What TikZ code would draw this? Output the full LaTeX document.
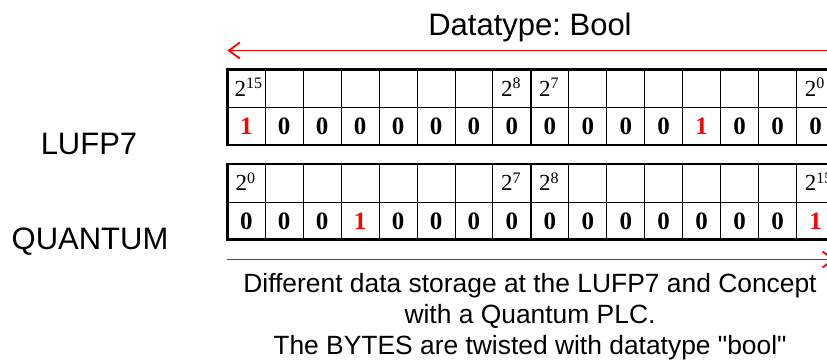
\documentclass[tikz,border=0pt]{standalone}
\usepackage{fontspec}
\setmainfont{Liberation Serif}
\setsansfont{Liberation Sans}[Ligatures=TeXOff]
\frenchspacing
\usepackage{tikz}
\usetikzlibrary{arrows.meta,positioning,calc}
\newcommand{\powtwo}[1]{2\raisebox{7.5pt}{\fontsize{16}{16}\selectfont #1}}
\tikzset{%
  cell/.style={draw,line width=1pt,anchor=north west,minimum width=37.95pt,inner sep=0pt,outer sep=0pt},
  expcell/.style={cell,minimum height=38.2pt},
  bitcell/.style={cell,minimum height=37.2pt,font=\fontsize{25}{25}\selectfont\bfseries},
  bit0/.style={},
  bit1/.style={text=red},
  explabel/.style={anchor=base west,inner sep=0pt,font=\fontsize{23}{23}\selectfont},
  frame/.style={line width=2.5pt},
  bytesep/.style={line width=2pt},
  sidetext/.style={anchor=base,inner sep=0pt,font=\sffamily\fontsize{31}{31}\selectfont},
  note/.style={anchor=base,inner sep=0pt,align=center,font=\sffamily\fontsize{26.4}{31.3}\selectfont},
  redarrow/.style={-{Straight Barb[length=11pt,width=16pt]},red,line width=1.8pt}%
}

\begin{document}
\begin{tikzpicture}[x=1pt,y=-1pt]
\useasboundingbox (0,0) rectangle (827,363);
\clip (0,0) rectangle (827,363);

% Title with direction arrow
\node[sidetext] (dtype) at (530,36) {Datatype: Bool};
\coordinate (dt-right) at (835,50.5);
\coordinate (dt-left) at (227.3,50.5);
\draw[redarrow] (dt-right) -- (dt-left);

% LUFP7 word
\foreach \i in {0,...,15}
  \node[expcell] (lufp-exp-\i) at ({227.3+37.95*\i},69.5) {};
\foreach \b [count=\i from 0] in {1,0,0,0,0,0,0,0,0,0,0,0,1,0,0,0}
  \node[bitcell,bit\b] (lufp-bit-\i) at (lufp-exp-\i.south west) {\b};
\draw[frame] (lufp-exp-0.north west) rectangle (lufp-bit-15.south east);
\draw[bytesep] (lufp-exp-7.north east) -- (lufp-bit-7.south east);
\node[explabel] (lufp-e15) at ([xshift=7pt,yshift=-7.5pt]lufp-exp-0.west) {\powtwo{15}};
\node[explabel] (lufp-e8) at ([xshift=8pt,yshift=-7.5pt]lufp-exp-7.west) {\powtwo{8}};
\node[explabel] (lufp-e7) at ([xshift=8pt,yshift=-7.5pt]lufp-exp-8.west) {\powtwo{7}};
\node[explabel] (lufp-e0) at ([xshift=8pt,yshift=-7.5pt]lufp-exp-15.west) {\powtwo{0}};

% QUANTUM word
\foreach \i in {0,...,15}
  \node[expcell] (quan-exp-\i) at ({227.3+37.95*\i},164.2) {};
\foreach \b [count=\i from 0] in {0,0,0,1,0,0,0,0,0,0,0,0,0,0,0,1}
  \node[bitcell,bit\b] (quan-bit-\i) at (quan-exp-\i.south west) {\b};
\draw[frame] (quan-exp-0.north west) rectangle (quan-bit-15.south east);
\draw[bytesep] (quan-exp-7.north east) -- (quan-bit-7.south east);
\node[explabel] (quan-e0) at ([xshift=8pt,yshift=-7.5pt]quan-exp-0.west) {\powtwo{0}};
\node[explabel] (quan-e7) at ([xshift=8pt,yshift=-7.5pt]quan-exp-7.west) {\powtwo{7}};
\node[explabel] (quan-e8) at ([xshift=8pt,yshift=-7.5pt]quan-exp-8.west) {\powtwo{8}};
\node[explabel] (quan-e15) at ([xshift=8pt,yshift=-7.5pt]quan-exp-15.west) {\powtwo{15}};

% Row names
\node[sidetext] (lufp) at (89,155) {LUFP7};
\node[sidetext] (quantum) at (90,249.5) {QUANTUM};

% Storage arrow and note
\coordinate (st-left) at (227.3,259.5);
\coordinate (st-right) at (835,259.5);
\draw[redarrow] (st-left) -- (st-right);
\node[note] (storage) at (530,354.9) {Different data storage at the LUFP7 and Concept\\with a Quantum PLC.\\The BYTES are twisted with datatype "bool"};

\end{tikzpicture}
\end{document}
